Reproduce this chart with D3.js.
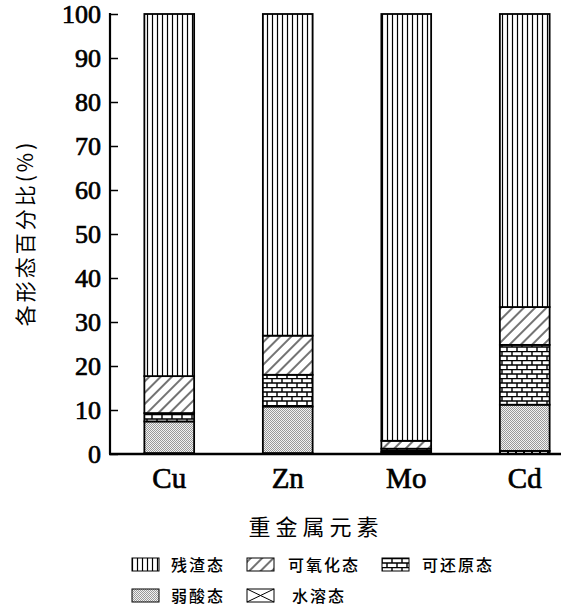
<!DOCTYPE html>
<html>
<head>
<meta charset="utf-8">
<script src="https://cdn.jsdelivr.net/npm/d3@7"></script>
<style>
  body { margin: 0; background: #fff; }
  text { fill: #000; }
</style>
</head>
<body>
<div id="chart"></div>
<script>
/* stacked bars: heavy metal fractions */

const elements = ["Cu", "Zn", "Mo", "Cd"];
const fractions = ["水溶态", "弱酸态", "可还原态", "可氧化态", "残渣态"]; // bottom -> top
const waterSoluble = [0.2, 0.2, 0.3, 0.7];
const weakAcid     = [7.2, 10.6, 0.3, 10.5];
const reducible    = [1.9, 7.2, 0.6, 13.6];
const oxidizable   = [8.4, 8.9, 1.8, 8.6];
const residual     = [82.3, 73.1, 97.0, 66.6];
const yTicks = [0, 10, 20, 30, 40, 50, 60, 70, 80, 90, 100];

const seriesValues = [waterSoluble, weakAcid, reducible, oxidizable, residual];
const data = elements.map((e, i) => {
    const row = { key: e };
    fractions.forEach((f, j) => row[f] = seriesValues[j][i]);
    return row;
});

const width = 586, height = 615,
      margin = ({ top: 14, right: 2, bottom: 161, left: 110 });

const svg = d3.select("#chart")
    .append("svg")
    .attr("width", width)
    .attr("height", height);

// patterns
const defs = svg.append("defs");
const patId = {
    "残渣态": "p-res", "可氧化态": "p-ox", "可还原态": "p-red",
    "弱酸态": "p-weak", "水溶态": "p-water"
};

let p = defs.append("pattern").attr("id", "p-res")
    .attr("patternUnits", "userSpaceOnUse").attr("width", 5).attr("height", 10);
p.append("rect").attr("width", 5).attr("height", 10).attr("fill", "#fff");
p.append("line").attr("x1", 2.5).attr("x2", 2.5).attr("y1", 0).attr("y2", 10)
    .attr("stroke", "#000").attr("stroke-width", 1.2);

p = defs.append("pattern").attr("id", "p-ox")
    .attr("patternUnits", "userSpaceOnUse").attr("width", 8).attr("height", 8)
    .attr("patternTransform", "rotate(45)");
p.append("rect").attr("width", 8).attr("height", 8).attr("fill", "#fff");
p.append("line").attr("x1", 4).attr("x2", 4).attr("y1", 0).attr("y2", 8)
    .attr("stroke", "#000").attr("stroke-width", 1.1);

p = defs.append("pattern").attr("id", "p-red")
    .attr("patternUnits", "userSpaceOnUse").attr("width", 10).attr("height", 9);
p.append("rect").attr("width", 10).attr("height", 9).attr("fill", "#fff");
p.append("path")
    .attr("d", "M0,0.5H10M0,5H10M2,0.5V5M7,5V9")
    .attr("stroke", "#000").attr("stroke-width", 1.4).attr("fill", "none");

p = defs.append("pattern").attr("id", "p-weak")
    .attr("patternUnits", "userSpaceOnUse").attr("width", 2).attr("height", 2);
p.append("rect").attr("width", 2).attr("height", 2).attr("fill", "#f2f2f2");
p.append("rect").attr("width", 1).attr("height", 1).attr("fill", "#999");
p.append("rect").attr("x", 1).attr("y", 1).attr("width", 1).attr("height", 1).attr("fill", "#999");

p = defs.append("pattern").attr("id", "p-water")
    .attr("patternUnits", "userSpaceOnUse").attr("width", 8).attr("height", 8);
p.append("rect").attr("width", 8).attr("height", 8).attr("fill", "#fff");
p.append("path").attr("d", "M0,0L8,8M8,0L0,8")
    .attr("stroke", "#000").attr("stroke-width", 1);

// scales
const x = d3.scaleBand()
    .domain(elements)
    .range([margin.left, width - margin.right])
    .paddingInner(0.58)
    .paddingOuter(0.29);

const y = d3.scaleLinear()
    .domain([0, 100])
    .range([height - margin.bottom, margin.top]);

const stack = d3.stack().keys(fractions)(data);

const layer = svg.selectAll(".layer")
    .data(stack)
    .join("g")
    .attr("class", "layer")
    .attr("fill", d => `url(#${patId[d.key]})`);

layer.selectAll("rect")
    .data(d => d)
    .join("rect")
    .attr("x", d => x(d.data.key))
    .attr("width", x.bandwidth())
    .attr("y", d => y(d[1]))
    .attr("height", d => y(d[0]) - y(d[1]))
    .attr("stroke", "#000")
    .attr("stroke-width", 1.8);

const serif = "'Liberation Serif', 'Times New Roman', serif";

// y axis, ticks pointing inward
const yAxis = svg.append("g")
    .attr("transform", `translate(${margin.left},0)`)
    .call(d3.axisRight(y).tickValues(yTicks).tickSize(8).tickFormat(d3.format("d")));
yAxis.select(".domain").remove();
yAxis.selectAll(".tick line").attr("stroke-width", 1.5);
yAxis.selectAll(".tick text")
    .attr("x", -9)
    .attr("text-anchor", "end")
    .style("font-family", serif)
    .style("font-size", "26px")
    .style("stroke", "#000")
    .style("stroke-width", "0.7px");

svg.append("line")
    .attr("x1", margin.left).attr("x2", margin.left)
    .attr("y1", y(100) - 1).attr("y2", y(0))
    .attr("stroke", "#000").attr("stroke-width", 2.2);

// x axis
svg.append("line")
    .attr("x1", margin.left - 1).attr("x2", 561)
    .attr("y1", y(0)).attr("y2", y(0))
    .attr("stroke", "#000").attr("stroke-width", 2.5);

svg.append("g")
    .selectAll("text")
    .data(elements)
    .join("text")
    .attr("x", d => x(d) + x.bandwidth() / 2)
    .attr("y", y(0) + 34)
    .attr("text-anchor", "middle")
    .style("font-family", serif)
    .style("font-size", "29px")
    .style("stroke", "#000")
    .style("stroke-width", "0.7px")
    .text(d => d);

// axis titles
svg.append("text")
    .attr("x", 316)
    .attr("y", 535)
    .attr("text-anchor", "middle")
    .style("font-family", "'Noto Sans CJK SC', sans-serif")
    .style("font-size", "22px")
    .style("letter-spacing", "5px")
    .text("重金属元素");

svg.append("text")
    .attr("transform", "translate(33,233) rotate(-90)")
    .attr("text-anchor", "middle")
    .style("font-family", "'Noto Sans CJK SC', sans-serif")
    .style("font-size", "21px")
    .style("letter-spacing", "3px")
    .text("各形态百分比(%)");

// legend
const legendItems = [
    { key: "残渣态", bx: 132, tx: 171, y: 558 },
    { key: "可氧化态", bx: 247, tx: 288, y: 558 },
    { key: "可还原态", bx: 382, tx: 422, y: 558 },
    { key: "弱酸态", bx: 132, tx: 171, y: 589 },
    { key: "水溶态", bx: 247, tx: 292, y: 589 }
];
const boxW = 27, boxH = 13;

const legend = svg.append("g")
    .selectAll("g")
    .data(legendItems)
    .join("g");

legend.append("rect")
    .attr("x", d => d.bx)
    .attr("y", d => d.y)
    .attr("width", boxW)
    .attr("height", boxH)
    .attr("fill", d => d.key === "水溶态" ? "#fff" : `url(#${patId[d.key]})`)
    .attr("stroke", "#000")
    .attr("stroke-width", 1);

// water-soluble key shows one big cross
legend.filter(d => d.key === "水溶态")
    .append("path")
    .attr("d", d => `M${d.bx},${d.y}L${d.bx + boxW},${d.y + boxH}M${d.bx + boxW},${d.y}L${d.bx},${d.y + boxH}`)
    .attr("stroke", "#000")
    .attr("stroke-width", 1)
    .attr("fill", "none");

legend.append("text")
    .attr("x", d => d.tx)
    .attr("y", d => d.y + 13)
    .style("font-family", "'Noto Sans CJK SC', sans-serif")
    .style("font-size", "16px")
    .style("font-weight", "500")
    .style("letter-spacing", "2px")
    .text(d => d.key);
</script>
</body>
</html>
